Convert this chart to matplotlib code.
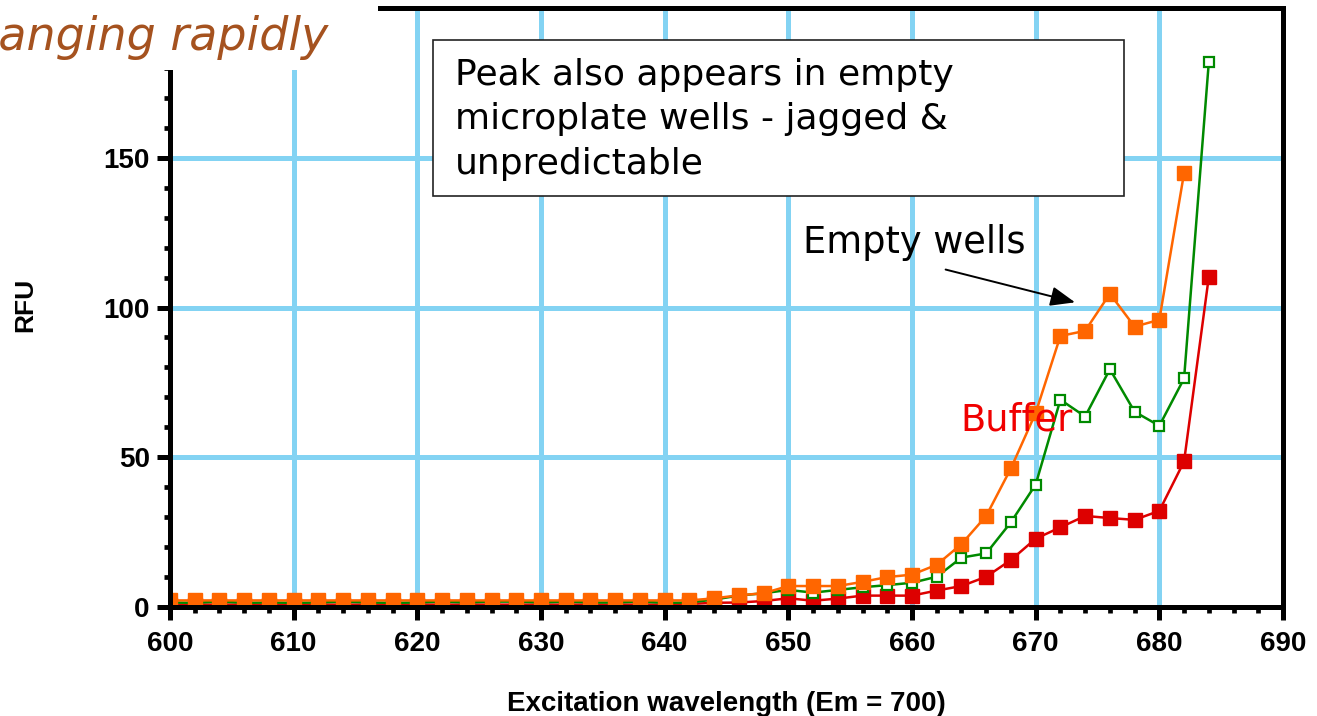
import matplotlib
matplotlib.use("Agg")
import matplotlib.pyplot as plt
import matplotlib.patches as patches
import numpy as np

# excitation scan, 600-684 nm in 2 nm steps
wavelength = [600, 602, 604, 606, 608, 610, 612, 614, 616, 618,
              620, 622, 624, 626, 628, 630, 632, 634, 636, 638,
              640, 642, 644, 646, 648, 650, 652, 654, 656, 658,
              660, 662, 664, 666, 668, 670, 672, 674, 676, 678,
              680, 682, 684]

empty_orange = [2.2, 2.2, 2.2, 2.2, 2.2, 2.2, 2.2, 2.2, 2.2, 2.2,
                2.2, 2.2, 2.2, 2.2, 2.2, 2.2, 2.2, 2.2, 2.2, 2.2,
                2.2, 2.2, 2.9, 3.9, 4.6, 7.0, 7.0, 7.0, 8.4, 10.0,
                10.8, 14.1, 21.0, 30.4, 46.3, 64.8, 90.5, 92.2, 104.6, 93.6,
                95.9, 144.9, np.nan]

empty_green = [1.5, 1.4, 1.8, 1.4, 1.5, 1.4, 1.5, 1.8, 1.5, 1.4,
               1.5, 1.8, 1.5, 1.8, 1.8, 1.5, 1.8, 1.5, 1.5, 1.8,
               1.4, 1.5, 2.5, 3.8, 4.6, 5.7, 4.8, 5.7, 6.6, 7.3,
               8.1, 10.1, 16.5, 17.9, 28.3, 40.9, 69.2, 63.6, 79.4, 65.2,
               60.5, 76.3, 181.9]

buffer_red = [0.8, 0.8, 0.8, 0.8, 0.8, 0.8, 0.8, 0.8, 0.8, 0.8,
              0.8, 0.8, 0.8, 0.8, 0.8, 0.8, 0.8, 0.8, 0.8, 0.8,
              0.8, 1.0, 1.4, 1.5, 2.0, 2.9, 2.1, 2.8, 3.8, 3.8,
              3.8, 5.5, 7.0, 10.1, 15.7, 22.8, 26.6, 30.4, 29.7, 29.1,
              32.1, 48.6, 110.2]

W, H = 1317, 716
fig = plt.figure(figsize=(W / 100, H / 100), dpi=100)
ax = fig.add_axes([170 / W, 109 / H, (1283 - 170) / W, (607 - 8) / H])

ax.plot(wavelength, buffer_red, color="#DD0000", lw=1.8, marker="s",
        ms=9.5, mec="#DD0000", mfc="#DD0000", zorder=3)
ax.plot(wavelength, empty_green, color="#008A00", lw=1.8, marker="s",
        ms=6.5, mec="#008A00", mfc="white", mew=1.6, zorder=4)
ax.plot(wavelength, empty_orange, color="#FF6600", lw=1.8, marker="s",
        ms=9.5, mec="#FF6600", mfc="#FF6600", zorder=5)

ax.set_xlim(600, 690)
ax.set_ylim(0, 200)
ax.set_xticks(np.arange(600, 691, 10))
ax.set_xticks(np.arange(600, 691, 2), minor=True)
ax.set_yticks([0, 50, 100, 150])
ax.set_yticks(np.arange(0, 200, 10), minor=True)

ax.grid(True, which="major", color="#83D3F3", lw=3.6, zorder=0)
ax.set_axisbelow(True)
for side in ["left", "bottom", "top", "right"]:
    ax.spines[side].set_linewidth(3.6)
    ax.spines[side].set_zorder(6)

ax.tick_params(which="major", direction="out", length=9.5, width=3.6, pad=5)
ax.tick_params(axis="x", which="major", pad=8)
ax.tick_params(which="minor", direction="out", length=4.5, width=3.4)
for lab in ax.get_xticklabels() + ax.get_yticklabels():
    lab.set_fontfamily("Liberation Sans")
    lab.set_fontweight("bold")
    lab.set_fontsize(20)

ax.set_xlabel("Excitation wavelength (Em = 700)", fontfamily="Liberation Sans",
              fontweight="bold", fontsize=20, labelpad=24)
fig.text(25 / W, 1 - 305 / H, "RFU", rotation=90, ha="center", va="center",
         fontfamily="Liberation Sans", fontweight="bold", fontsize=19)

# series labels
ax.text(651.2, 121.6, "Empty wells", fontsize=26.5, ha="left", va="center",
        fontfamily="DejaVu Sans", zorder=7)
ax.annotate("", xy=(673.4, 101.5), xytext=(662.5, 112.9),
            arrowprops=dict(arrowstyle="-|>,head_length=1.5,head_width=0.6",
                            color="black", lw=1.4), zorder=7)
ax.text(663.9, 62.5, "Buffer", fontsize=26.5, color="#F00000", ha="left",
        va="center", fontfamily="DejaVu Sans", zorder=7)

# callout box
box = patches.Rectangle((433 / W, 1 - 196 / H), 691 / W, 156 / H,
                        transform=fig.transFigure, facecolor="white",
                        edgecolor="#222222", lw=1.2, zorder=8)
fig.patches.append(box)
fig.text(455 / W, 1 - 58 / H,
         "Peak also appears in empty\nmicroplate wells - jagged &\nunpredictable",
         fontsize=26, ha="left", va="top", linespacing=1.38,
         fontfamily="DejaVu Sans", zorder=9)

# heading strip at top left
strip = patches.Rectangle((0, 1 - 70 / H), 378 / W, 70 / H,
                          transform=fig.transFigure, facecolor="white",
                          edgecolor="none", zorder=8)
fig.patches.append(strip)
fig.text(328 / W, 1 - 50 / H, "changing rapidly", fontsize=33,
         style="italic", color="#A5521F", ha="right", va="baseline",
         fontfamily="DejaVu Sans", zorder=9)

fig.savefig("out.png", dpi=100)
